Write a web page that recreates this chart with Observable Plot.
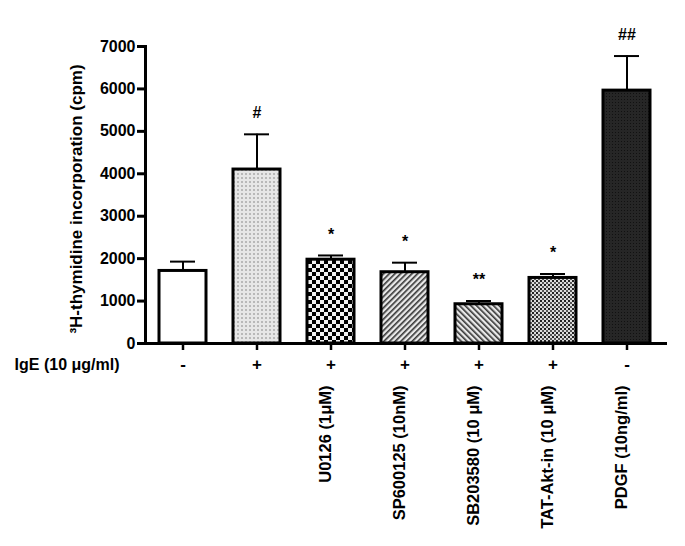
<!DOCTYPE html>
<html><head><meta charset="utf-8">
<script src="https://cdn.jsdelivr.net/npm/d3@7"></script>
<script src="https://cdn.jsdelivr.net/npm/@observablehq/plot@0.6"></script>
<style>
body{margin:0;background:#fff}
#chart svg{font-family:"Liberation Sans",Arial,sans-serif;font-weight:bold}
</style>
</head><body><div id="chart"></div>
<script>
// ---- data ----
const groups = ["Control", "IgE", "IgE + U0126", "IgE + SP600125", "IgE + SB203580", "IgE + TAT-Akt-in", "PDGF"];
const igeSigns = ["-", "+", "+", "+", "+", "+", "-"];
const treatments = ["", "", "U0126 (1\u03bcM)", "SP600125 (10nM)", "SB203580 (10 \u03bcM)", "TAT-Akt-in (10 \u03bcM)", "PDGF (10ng/ml)"];
const means = [1710, 4100, 1975, 1680, 925, 1545, 5960];
const sems = [220, 830, 100, 225, 77, 93, 815];
const significance = ["", "#", "*", "*", "**", "*", "##"];
const yTicks = [0, 1000, 2000, 3000, 4000, 5000, 6000, 7000];
const xLabel = "IgE (10 \u03bcg/ml)";
const yLabel = "\u00b3H-thymidine incorporation (cpm)";

// ---- styles ----
const fills = ["white", "url(#pDots)", "url(#pChecker)", "url(#pHatchR)", "url(#pHatchL)", "url(#pFine)", "url(#pDark)"];

const data = groups.map((g, i) => ({
  group: g, mean: means[i], top: means[i] + sems[i],
  ige: igeSigns[i], treatment: treatments[i], sig: significance[i], fill: fills[i]
}));

const defs = () => {
  const d = d3.create("svg:defs");
  d.html(`
    <pattern id="pDots" width="4" height="4" patternUnits="userSpaceOnUse">
      <rect width="4" height="4" fill="#e6e6e6"/>
      <rect x="1" y="1" width="2" height="2" fill="#b8b8b8"/>
    </pattern>
    <pattern id="pChecker" width="8" height="8" patternUnits="userSpaceOnUse">
      <rect width="8" height="8" fill="#f2f2f2"/>
      <rect width="4" height="4" fill="#000"/>
      <rect x="4" y="4" width="4" height="4" fill="#000"/>
    </pattern>
    <pattern id="pHatchR" width="4" height="4" patternUnits="userSpaceOnUse" patternTransform="rotate(45)">
      <rect width="4" height="4" fill="#e8e8e8"/>
      <rect width="1.6" height="4" fill="#333"/>
    </pattern>
    <pattern id="pHatchL" width="4" height="4" patternUnits="userSpaceOnUse" patternTransform="rotate(-45)">
      <rect width="4" height="4" fill="#e8e8e8"/>
      <rect width="1.6" height="4" fill="#333"/>
    </pattern>
    <pattern id="pFine" width="4" height="4" patternUnits="userSpaceOnUse">
      <rect width="4" height="4" fill="#dcdcdc"/>
      <rect width="2" height="2" fill="#222"/>
      <rect x="2" y="2" width="2" height="2" fill="#555"/>
    </pattern>
    <pattern id="pDark" width="3" height="3" patternUnits="userSpaceOnUse">
      <rect width="3" height="3" fill="#262626"/>
      <rect width="1" height="1" fill="#111"/>
    </pattern>`);
  return d.node();
};

const chart = Plot.plot({
  width: 685, height: 546,
  marginLeft: 145, marginRight: 20, marginTop: 46, marginBottom: 203,
  style: {fontFamily: "'Liberation Sans', Arial, sans-serif", fontWeight: "bold", fontSize: "15px", color: "black", background: "white"},
  x: {domain: groups, paddingInner: 0.36, paddingOuter: 0.18, axis: null},
  y: {domain: [0, 7000], axis: null},
  color: {type: "identity"},
  marks: [
    defs,
    Plot.barY(data, {x: "group", y: "mean", fill: "fill", stroke: "black", strokeWidth: 3}),
    Plot.ruleX(data, {x: "group", y1: "mean", y2: "top", stroke: "black", strokeWidth: 2}),
    Plot.tickY(data, {x: "group", y: "top", stroke: "black", strokeWidth: 2, insetLeft: 11, insetRight: 11}),
    Plot.text(data, {x: "group", y: "top", text: "sig", dy: -21, fontSize: 16, fill: "black"}),
    Plot.axisY({ticks: yTicks, tickSize: 8, tickPadding: 2, tickFormat: d => String(d), strokeWidth: 3, fontSize: 16, label: null}),
    Plot.frame({anchor: "left", strokeWidth: 3}),
    Plot.frame({anchor: "bottom", strokeWidth: 3}),
    Plot.axisX({tickSize: 7, tickFormat: () => "", strokeWidth: 2.5, label: null}),
    Plot.text(data, {x: "group", text: "ige", frameAnchor: "bottom", dy: 26, fontSize: 17, fill: "black"}),
    Plot.text(data, {x: "group", text: "treatment", frameAnchor: "bottom", dy: 42, rotate: -90, textAnchor: "end", fontSize: 16.5, fill: "black"}),
    Plot.text([xLabel], {text: d => d, frameAnchor: "bottom-left", textAnchor: "end", dx: -26, dy: 26, fontSize: 16, fill: "black"}),
    Plot.text([yLabel], {text: d => d, frameAnchor: "left", rotate: -90, textAnchor: "middle", dx: -69, dy: 4, fontSize: 17, fill: "black"})
  ]
});
document.getElementById("chart").appendChild(chart);
</script>
</body></html>
